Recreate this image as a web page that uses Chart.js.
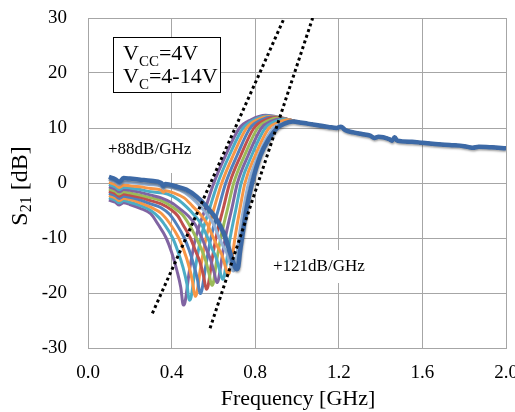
<!DOCTYPE html>
<html><head><meta charset="utf-8">
<script src="https://cdn.jsdelivr.net/npm/chart.js@4/dist/chart.umd.min.js"></script>
<style>html,body{margin:0;padding:0;background:#fff}#wrap{width:515px;height:412px}</style>
</head><body><div id="wrap"><canvas id="c" width="515" height="412"></canvas></div>
<script>
// ---- data (frequency in GHz, S21 in dB) ----
const X_TICKS = [0.0, 0.4, 0.8, 1.2, 1.6, 2.0];
const Y_TICKS = [-30, -20, -10, 0, 10, 20, 30];

const FREQ_C0 = [0.10,0.13,0.15,0.17,0.20,0.25,0.30,0.335,0.374,0.40,0.426,0.444,0.456,0.464,0.485,0.515,0.563,0.602,0.658,0.725,0.78,0.85,0.92,1.00];
const S21_C0  = [-3.1,-3.5,-4.0,-3.6,-3.9,-4.6,-5.6,-7.5,-10.0,-12.6,-16.0,-19.0,-22.2,-21.7,-16.0,-10.0,-4.5,0.0,5.0,10.0,11.5,12.3,11.9,11.1];
const FREQ_C1 = [0.10,0.13,0.15,0.17,0.20,0.25,0.30,0.34,0.365,0.405,0.43,0.455,0.473,0.485,0.493,0.512,0.54,0.583,0.621,0.676,0.742,0.795,0.86,0.93,1.00];
const S21_C1  = [-2.7,-3.1,-3.6,-3.2,-3.5,-4.1,-5.0,-6.3,-7.5,-10.0,-12.4,-15.4,-18.3,-21.3,-20.8,-15.8,-10.0,-4.5,0.0,5.0,10.0,11.5,12.2,11.8,11.1];
const FREQ_C2 = [0.10,0.13,0.15,0.17,0.20,0.25,0.30,0.35,0.394,0.434,0.458,0.482,0.500,0.512,0.520,0.538,0.565,0.604,0.640,0.694,0.759,0.81,0.87,0.94,1.00];
const S21_C2  = [-2.3,-2.7,-3.2,-2.8,-3.0,-3.6,-4.4,-5.5,-7.5,-10.0,-12.2,-15.0,-17.9,-20.6,-20.1,-15.6,-10.0,-4.5,0.0,5.0,10.0,11.5,12.1,11.7,11.1];
const FREQ_C3 = [0.10,0.13,0.15,0.17,0.20,0.25,0.30,0.35,0.39,0.424,0.461,0.484,0.506,0.524,0.536,0.544,0.562,0.588,0.626,0.659,0.713,0.776,0.83,0.88,0.95,1.00];
const S21_C3  = [-1.9,-2.3,-2.8,-2.4,-2.6,-3.1,-3.8,-4.5,-5.7,-7.5,-10.0,-12.2,-14.9,-17.6,-20.1,-19.6,-15.4,-10.0,-4.5,0.0,5.0,10.0,11.5,12.0,11.6,11.1];
const FREQ_C4 = [0.10,0.13,0.15,0.17,0.20,0.25,0.30,0.35,0.40,0.43,0.453,0.49,0.514,0.536,0.554,0.566,0.574,0.590,0.612,0.648,0.678,0.731,0.794,0.845,0.895,0.95,1.00];
const S21_C4  = [-1.5,-1.9,-2.4,-2.0,-2.2,-2.6,-3.2,-3.8,-4.9,-6.0,-7.5,-10.0,-12.3,-14.4,-17.1,-19.3,-18.8,-14.8,-10.0,-4.5,0.0,5.0,10.0,11.4,11.9,11.6,11.1];
const FREQ_C5 = [0.10,0.13,0.15,0.17,0.20,0.25,0.30,0.35,0.41,0.45,0.483,0.518,0.540,0.562,0.580,0.592,0.600,0.614,0.635,0.669,0.697,0.749,0.812,0.86,0.91,0.96,1.00];
const S21_C5  = [-1.1,-1.5,-2.0,-1.6,-1.8,-2.2,-2.7,-3.2,-4.5,-5.7,-7.5,-10.0,-11.8,-14.0,-16.6,-18.6,-18.1,-14.5,-10.0,-4.5,0.0,5.0,10.0,11.3,11.8,11.5,11.1];
const FREQ_C6 = [0.10,0.13,0.15,0.17,0.20,0.25,0.30,0.35,0.40,0.44,0.48,0.512,0.545,0.566,0.586,0.604,0.616,0.624,0.638,0.657,0.689,0.715,0.766,0.83,0.875,0.925,0.97,1.00];
const S21_C6  = [-0.7,-1.1,-1.6,-1.2,-1.3,-1.7,-2.2,-2.7,-3.6,-4.7,-6.0,-7.5,-10.0,-12.0,-13.9,-16.3,-18.1,-17.6,-14.3,-10.0,-4.5,0.0,5.0,10.0,11.2,11.7,11.4,11.1];
const FREQ_C7 = [0.10,0.13,0.15,0.17,0.20,0.25,0.30,0.38,0.43,0.47,0.51,0.542,0.573,0.593,0.613,0.631,0.643,0.651,0.664,0.68,0.709,0.733,0.783,0.848,0.89,0.94,1.00];
const S21_C7  = [-0.3,-0.7,-1.2,-0.8,-0.9,-1.2,-1.6,-2.0,-3.0,-4.3,-5.9,-7.5,-10.0,-11.9,-13.6,-16.0,-17.5,-17.0,-14.0,-10.0,-4.5,0.0,5.0,10.0,11.1,11.6,11.1];
const FREQ_C8 = [0.10,0.13,0.15,0.17,0.20,0.25,0.30,0.35,0.36,0.37,0.41,0.46,0.50,0.54,0.571,0.60,0.620,0.640,0.658,0.670,0.678,0.690,0.703,0.728,0.751,0.80,0.866,0.91,0.955,1.00];
const S21_C8  = [0.1,-0.3,-0.8,-0.4,-0.5,-0.7,-1.0,-1.3,-1.7,-1.4,-1.8,-2.7,-4.2,-5.8,-7.5,-10.0,-11.6,-13.0,-15.3,-16.6,-16.1,-13.6,-10.0,-4.5,0.0,5.0,10.0,11.0,11.5,11.1];
const FREQ_C9 = [0.10,0.13,0.15,0.17,0.20,0.25,0.30,0.35,0.36,0.37,0.44,0.49,0.53,0.57,0.601,0.628,0.648,0.665,0.683,0.695,0.703,0.712,0.722,0.745,0.768,0.815,0.886,0.93,0.97,1.00];
const S21_C9  = [0.6,0.2,-0.3,0.2,0.1,-0.1,-0.3,-0.6,-1.0,-0.7,-1.3,-2.5,-4.0,-5.7,-7.5,-10.0,-11.6,-12.8,-15.0,-16.0,-15.5,-13.3,-10.0,-4.5,0.0,5.0,10.0,10.8,11.2,11.1];
const FREQ_C10 = [0.10,0.13,0.15,0.17,0.20,0.25,0.30,0.35,0.36,0.37,0.42,0.47,0.52,0.56,0.60,0.63,0.656,0.681,0.699,0.711,0.719,0.727,0.737,0.76,0.785,0.825,0.865,0.905,0.94,0.98,1.00];
const S21_C10  = [1.1,0.7,0.2,0.9,0.8,0.6,0.4,0.0,-0.5,-0.2,-0.6,-1.2,-2.5,-4.0,-5.8,-7.6,-9.8,-12.8,-14.9,-15.7,-15.2,-12.6,-10.0,-4.4,0.0,5.0,8.0,10.0,10.8,11.2,11.1];

// shared high-frequency tail (all curves coincide above ~1 GHz)
const FREQ_TAIL = [1.05,1.10,1.15,1.19,1.21,1.23,1.27,1.31,1.35,1.37,1.39,1.44,1.455,1.467,1.48,1.55,1.60,1.66,1.73,1.80,1.84,1.87,1.93,2.00];
const S21_TAIL  = [10.8,10.5,10.2,10.0,10.25,9.65,9.2,8.9,8.6,8.2,8.4,8.0,7.7,8.3,7.7,7.5,7.3,7.1,6.9,6.7,6.4,6.6,6.5,6.3];

// slope guide lines
const SLOPE88_F  = [0.308, 0.939];
const SLOPE88_S  = [-23.7, 30];
const SLOPE121_F = [0.584, 1.075];
const SLOPE121_S = [-26.4, 30];

const CURVE_FREQS = [FREQ_C0,FREQ_C1,FREQ_C2,FREQ_C3,FREQ_C4,FREQ_C5,FREQ_C6,FREQ_C7,FREQ_C8,FREQ_C9,FREQ_C10];
const CURVE_S21   = [S21_C0,S21_C1,S21_C2,S21_C3,S21_C4,S21_C5,S21_C6,S21_C7,S21_C8,S21_C9,S21_C10];
const CURVE_COLORS = ['#8064A2','#4BACC6','#F79646','#4F81BD','#C0504D','#9BBB59','#8064A2','#4BACC6','#F79646','#95B3D7','#3C69A6'];

// ---- build datasets ----
const toPts = (f, s) => f.map((x, k) => ({x: x, y: s[k]}));
const tailPts = toPts(FREQ_TAIL, S21_TAIL);
const LAST = CURVE_FREQS.length - 1;
const datasets = [];
CURVE_FREQS.forEach((f, i) => {
  datasets.push({
    label: 'C' + i,
    data: toPts(f, CURVE_S21[i]).concat(tailPts),
    borderColor: CURVE_COLORS[i],
    borderWidth: i === LAST ? 4.5 : 3,
    pointRadius: 0,
    fill: false,
    cubicInterpolationMode: 'monotone',
    order: i === LAST ? 1 : 20 - i
  });
});
[[SLOPE88_F, SLOPE88_S], [SLOPE121_F, SLOPE121_S]].forEach((p, j) => {
  datasets.push({
    label: 'slope' + j,
    data: toPts(p[0], p[1]),
    borderColor: '#000',
    borderWidth: 3,
    borderDash: [3, 3],
    borderCapStyle: 'butt',
    pointRadius: 0,
    fill: false,
    order: 0
  });
});

const SERIF = "'Liberation Serif','Times New Roman',serif";
function drawParts(ctx, parts, x, y, big, small, off) {
  let cx = x;
  parts.forEach(p => {
    ctx.font = (p[1] ? small : big) + 'px ' + SERIF;
    ctx.fillText(p[0], cx, y + (p[1] ? off : 0));
    cx += ctx.measureText(p[0]).width;
  });
  return cx - x;
}
function partsWidth(ctx, parts, big, small) {
  let w = 0;
  parts.forEach(p => { ctx.font = (p[1] ? small : big) + 'px ' + SERIF; w += ctx.measureText(p[0]).width; });
  return w;
}

const deco = {
  id: 'deco',
  beforeDatasetsDraw(chart) {
    const ctx = chart.ctx;
    ctx.save();
    ctx.fillStyle = '#fff';
    ctx.fillRect(104, 129, 94, 44);
    ctx.fillRect(268, 250, 102, 33);
    ctx.fillRect(113, 37, 107, 55);
    ctx.strokeStyle = '#000';
    ctx.lineWidth = 1;
    ctx.strokeRect(113.5, 37.5, 107, 55);
    ctx.fillStyle = '#000';
    ctx.textBaseline = 'alphabetic';
    ctx.textAlign = 'left';
    drawParts(ctx, [['V', 0], ['CC', 1], ['=4V', 0]], 123, 60, 22, 15, 6);
    drawParts(ctx, [['V', 0], ['C', 1], ['=4-14V', 0]], 123, 83, 22, 15, 6);
    ctx.font = '17px ' + SERIF;
    ctx.textBaseline = 'middle';
    ctx.fillText('+88dB/GHz', 108, 150);
    ctx.fillText('+121dB/GHz', 273, 267);
    ctx.restore();
  },
  beforeDatasetDraw(chart, args) {
    if (args.index === LAST) {
      const ctx = chart.ctx;
      ctx.save();
      ctx.shadowColor = 'rgba(0,0,0,0.35)';
      ctx.shadowBlur = 2;
      ctx.shadowOffsetX = 0.5;
      ctx.shadowOffsetY = 1.5;
    }
  },
  afterDatasetDraw(chart, args) {
    if (args.index === LAST) chart.ctx.restore();
  },
  afterDraw(chart) {
    const ctx = chart.ctx, ca = chart.chartArea;
    ctx.save();
    ctx.fillStyle = '#000';
    ctx.textBaseline = 'middle';
    ctx.textAlign = 'center';
    ctx.font = '22px ' + SERIF;
    ctx.fillText('Frequency [GHz]', (ca.left + ca.right) / 2 + 1, 399);
    // y title with subscript
    ctx.translate(21, 186);
    ctx.rotate(-Math.PI / 2);
    ctx.textAlign = 'left';
    const parts = [['S', 0], ['21', 1], [' [dB]', 0]];
    const w = partsWidth(ctx, parts, 24, 16);
    drawParts(ctx, parts, -w / 2, 0, 24, 16, 6);
    ctx.restore();
  }
};

const gridColor = '#A6A6A6';
new Chart(document.getElementById('c'), {
  type: 'line',
  data: { datasets: datasets },
  options: {
    responsive: false,
    animation: false,
    devicePixelRatio: 1,
    layout: { padding: { left: 0, right: 9, top: 18, bottom: 0 } },
    plugins: { legend: { display: false }, tooltip: { enabled: false } },
    scales: {
      x: {
        type: 'linear', min: X_TICKS[0], max: X_TICKS[X_TICKS.length - 1],
        afterBuildTicks: s => { s.ticks = X_TICKS.map(v => ({value: v})); },
        ticks: { callback: v => Number(v).toFixed(1), font: { family: SERIF, size: 19 }, color: '#000', padding: 14, maxRotation: 0, autoSkip: false },
        grid: { color: gridColor, lineWidth: 1, drawTicks: false },
        border: { color: gridColor, width: 1 },
        afterFit: s => { s.height = 64; s.paddingLeft = 0; s.paddingRight = 0; }
      },
      y: {
        type: 'linear', min: Y_TICKS[0], max: Y_TICKS[Y_TICKS.length - 1],
        afterBuildTicks: s => { s.ticks = Y_TICKS.map(v => ({value: v})); },
        ticks: { callback: v => String(v), font: { family: SERIF, size: 19 }, color: '#000', padding: 21, autoSkip: false },
        grid: { color: gridColor, lineWidth: 1, drawTicks: false },
        border: { color: gridColor, width: 1 },
        afterFit: s => { s.width = 88; s.paddingTop = 0; s.paddingBottom = 0; }
      }
    }
  },
  plugins: [deco]
});
</script></body></html>
